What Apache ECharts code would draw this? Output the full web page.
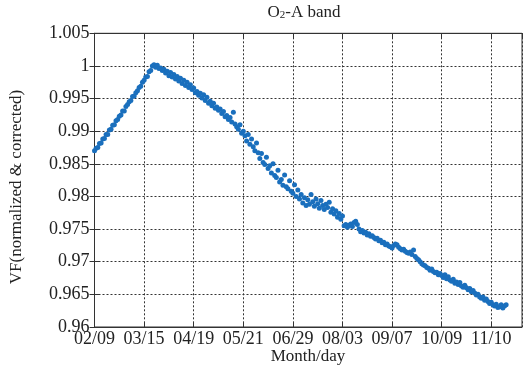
<!DOCTYPE html>
<html><head><meta charset="utf-8">
<script src="https://cdn.jsdelivr.net/npm/echarts@6/dist/echarts.min.js"></script>
<style>html,body{margin:0;padding:0;background:#fff}#c{width:527px;height:374px}</style>
</head><body><div id="c"></div>
<script>
// Tick labels for x axis (one every 30 samples)
const xTickLabels = ['02/09','03/15','04/19','05/21','06/29','08/03','09/07','10/09','11/10'];
const xTickStep = 30;
// VF values, one per sample index
const vfValues = [
0.9870,0.9874,0.9875,0.9881,0.9882,0.9888,0.9889,0.9895,0.9895,0.9902,
0.9903,0.9909,0.9910,0.9916,0.9918,0.9923,0.9925,0.9931,0.9931,0.9938,
0.9941,0.9945,0.9947,0.9953,0.9954,0.9959,0.9962,0.9967,0.9969,0.9975,
0.9978,0.9983,0.9984,0.9991,0.9993,1.0000,1.0002,0.9998,1.0001,0.9996,
0.9997,0.9993,0.9995,0.9989,0.9992,0.9985,0.9990,0.9983,0.9987,0.9980,
0.9984,0.9977,0.9981,0.9973,0.9978,0.9970,0.9975,0.9967,0.9971,0.9964,
0.9966,0.9959,0.9961,0.9955,0.9958,0.9951,0.9956,0.9947,0.9952,0.9943,
0.9946,0.9939,0.9943,0.9935,0.9937,0.9932,0.9934,0.9927,0.9930,0.9922,
0.9924,0.9918,0.9921,0.9914,0.9929,0.9911,0.9907,0.9903,0.9910,0.9897,
0.9900,0.9893,0.9885,0.9895,0.9880,0.9888,0.9876,0.9870,0.9882,0.9867,
0.9858,0.9866,0.9852,0.9849,0.9860,0.9843,0.9847,0.9836,0.9850,0.9832,
0.9829,0.9840,0.9822,0.9826,0.9817,0.9833,0.9815,0.9812,0.9824,0.9808,
0.9805,0.9818,0.9800,0.9810,0.9796,0.9803,0.9790,0.9798,0.9786,0.9795,
0.9788,0.9803,0.9792,0.9785,0.9796,0.9789,0.9782,0.9794,0.9786,0.9780,
0.9788,0.9783,0.9791,0.9776,0.9781,0.9773,0.9778,0.9768,0.9774,0.9765,
0.9770,0.9755,0.9757,0.9753,0.9756,0.9758,0.9754,0.9760,0.9762,0.9757,
0.9750,0.9746,0.9748,0.9744,0.9745,0.9741,0.9743,0.9739,0.9740,0.9737,
0.9735,0.9736,0.9732,0.9733,0.9729,0.9730,0.9726,0.9727,0.9724,0.9723,
0.9721,0.9725,0.9727,0.9726,0.9722,0.9720,0.9718,0.9719,0.9716,0.9714,
0.9713,0.9715,0.9711,0.9718,0.9708,0.9705,0.9703,0.9700,0.9697,0.9695,
0.9694,0.9691,0.9690,0.9687,0.9689,0.9685,0.9683,0.9684,0.9680,0.9682,
0.9679,0.9676,0.9680,0.9674,0.9677,0.9672,0.9670,0.9673,0.9667,0.9669,
0.9665,0.9668,0.9663,0.9661,0.9664,0.9660,0.9657,0.9659,0.9654,0.9656,
0.9652,0.9649,0.9650,0.9646,0.9644,0.9646,0.9641,0.9643,0.9639,0.9636,
0.9638,0.9634,0.9632,0.9635,0.9630,0.9631,0.9634,0.9629,0.9632,0.9634
];
const yMin = 0.96, yMax = 1.005, yStep = 0.005;
const xMax = 258.6;

const font = 'Liberation Serif, Times New Roman, serif';
const points = vfValues.map((v, i) => [i, v]);
const chart = echarts.init(document.getElementById('c'), null, {renderer: 'canvas'});
const gridLine = {show: true, lineStyle: {color: '#333', type: [2, 2], width: 1}};
const xLabelFmt = v => { const k = Math.round(v / xTickStep); return Math.abs(v - k * xTickStep) < 1e-6 && xTickLabels[k] ? xTickLabels[k] : ''; };
chart.setOption({
  animation: false,
  backgroundColor: '#fff',
  grid: {left: 94.5, top: 33.3, right: 5, bottom: 47, show: true, borderColor: '#333', borderWidth: 1, backgroundColor: 'transparent'},
  xAxis: [{
    type: 'value', min: 0, max: xMax, interval: xTickStep,
    axisLine: {show: true, lineStyle: {color: '#333'}},
    axisTick: {show: true, inside: true, length: 5, lineStyle: {color: '#333'}},
    splitLine: gridLine,
    axisLabel: {formatter: xLabelFmt, showMaxLabel: false, fontFamily: font, fontSize: 18, color: '#222', margin: 3}
  }, {
    type: 'value', position: 'top', min: 0, max: xMax, interval: xTickStep,
    axisLine: {show: true, lineStyle: {color: '#333'}},
    axisTick: {show: true, inside: true, length: 5, lineStyle: {color: '#333'}},
    splitLine: {show: false}, axisLabel: {show: false}
  }],
  yAxis: [{
    type: 'value', min: yMin, max: yMax, interval: yStep,
    axisLine: {show: true, lineStyle: {color: '#333'}},
    axisTick: {show: true, inside: true, length: 5, lineStyle: {color: '#333'}},
    splitLine: gridLine,
    axisLabel: {formatter: v => String(parseFloat(v.toFixed(3))), fontFamily: font, fontSize: 18, color: '#222', margin: 5}
  }, {
    type: 'value', position: 'right', min: yMin, max: yMax, interval: yStep,
    axisLine: {show: true, lineStyle: {color: '#333'}},
    axisTick: {show: true, inside: true, length: 5, lineStyle: {color: '#333'}},
    splitLine: {show: false}, axisLabel: {show: false}
  }],
  graphic: [
    {type: 'text', x: 304, y: 4, style: {text: 'O{s|2}-A band', fontFamily: font, fontSize: 17, fill: '#222', textAlign: 'center',
      rich: {s: {fontFamily: font, fontSize: 11, fill: '#222', padding: [6, 0, 0, 0]}}}},
    {type: 'text', x: 308, y: 348, style: {text: 'Month/day', fontFamily: font, fontSize: 17, fill: '#222', textAlign: 'center'}},
    {type: 'text', rotation: Math.PI / 2, x: 8, y: 187, style: {text: 'VF(normalized & corrected)', fontFamily: font, fontSize: 17, fill: '#222', textAlign: 'center', textVerticalAlign: 'top'}}
  ],
  series: [{
    type: 'scatter', xAxisIndex: 0, yAxisIndex: 0, data: points,
    symbol: 'circle', symbolSize: 5,
    itemStyle: {color: '#1a6fbd', opacity: 1}
  }]
});
</script></body></html>
